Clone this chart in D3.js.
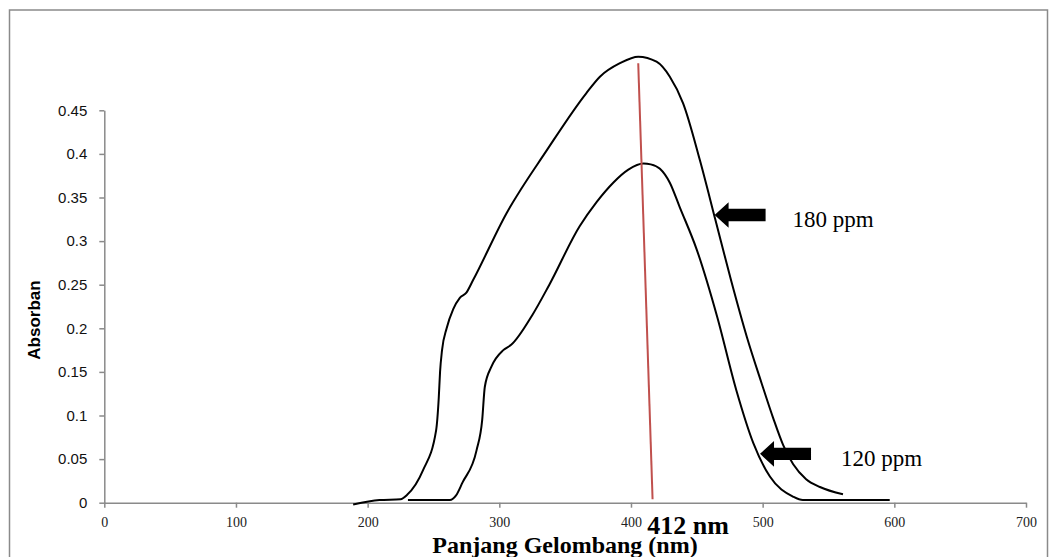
<!DOCTYPE html>
<html>
<head>
<meta charset="utf-8">
<script src="https://cdn.jsdelivr.net/npm/d3@7"></script>
<style>
body{margin:0;background:#fff;}
svg{display:block;}
</style>
</head>
<body>
<svg id="Viz"></svg>
<script>
// wavelength (nm) / absorbance
let wl180 = [189, 209, 225, 230, 242, 252, 254, 255, 256.5, 260, 265, 270, 275, 280, 305.5, 336, 366, 376.4, 391.6, 405.5, 419.4, 429.5, 439.6, 452.3, 464, 476, 488, 499.2, 508, 515.6, 523.2, 533, 543.5, 561];
let abs180 = [-0.002, 0.003, 0.004, 0.009, 0.037, 0.083, 0.12, 0.15, 0.175, 0.2, 0.222, 0.235, 0.241, 0.255, 0.332, 0.404, 0.4695, 0.4885, 0.504, 0.5115, 0.5057, 0.4885, 0.458, 0.393, 0.325, 0.255, 0.19, 0.137, 0.097, 0.066, 0.044, 0.027, 0.018, 0.0096];

let wl120 = [230.6, 262.5, 267, 272, 282.7, 287, 289, 294, 303, 309, 325, 338, 361, 374, 386.5, 398, 409.5, 415, 422, 429.5, 437, 450, 465.5, 480, 493, 505.5, 523, 530.5, 560, 596.5];
let abs120 = [0.003, 0.003, 0.008, 0.023, 0.06, 0.095, 0.133, 0.156, 0.175, 0.181, 0.215, 0.25, 0.317, 0.345, 0.367, 0.382, 0.389, 0.388, 0.383, 0.367, 0.339, 0.29, 0.213, 0.129, 0.068, 0.03, 0.007, 0.003, 0.003, 0.003];

let xTicks = [0, 100, 200, 300, 400, 500, 600, 700];
let yTicks = [0, 0.05, 0.1, 0.15, 0.2, 0.25, 0.3, 0.35, 0.4, 0.45];

// red lambda max marker
let peakLineX = [405.5, 416.4];
let peakLineY = [0.504, 0.004];

let arrowTipX = [463.5, 498];
let arrowTipY = [0.33, 0.056];
let arrowLabels = ["180 ppm", "120 ppm"];

let Width = 1060, Height = 557;

let vizArea = d3.select('#Viz')
  .attr("width", Width)
  .attr("height", Height);

// outer chart border
vizArea.append("rect")
  .attr("x", 9.5).attr("y", 10)
  .attr("width", 1038).attr("height", 600)
  .attr("fill", "none")
  .attr("stroke", "#8a8a8a")
  .attr("stroke-width", 1.5);

let xScale = d3.scaleLinear().domain([0, 700]).range([104.3, 1026]);
let yScale = d3.scaleLinear().domain([0, 0.45]).range([502.7, 110.3]);

let yAxis = vizArea.append('g')
  .attr("transform", "translate(" + xScale(0) + ",0)")
  .call(d3.axisLeft(yScale).tickValues(yTicks).tickSize(5).tickSizeOuter(0).tickPadding(12)
    .tickFormat(d => d === 0 ? "0" : String(+d.toFixed(2))));
yAxis.selectAll("path,line").attr("stroke", "#8a8a8a").attr("stroke-width", 1.5);
yAxis.selectAll("text")
  .attr("font-family", "'Liberation Sans', Arial, sans-serif")
  .attr("font-size", 15)
  .attr("fill", "#111");

let xAxis = vizArea.append('g')
  .attr("transform", "translate(0," + yScale(0) + ")")
  .call(d3.axisBottom(xScale).tickValues(xTicks).tickSize(5).tickSizeOuter(0).tickPadding(9));
xAxis.selectAll("path,line").attr("stroke", "#8a8a8a").attr("stroke-width", 1.5);
xAxis.selectAll("text")
  .attr("font-family", "'Liberation Serif', 'Times New Roman', serif")
  .attr("font-size", 14)
  .attr("fill", "#222");

let line = d3.line()
  .x(d => xScale(d[0]))
  .y(d => yScale(d[1]))
  .curve(d3.curveMonotoneX);

let series = [d3.zip(wl180, abs180), d3.zip(wl120, abs120)];

vizArea.selectAll(".spec")
  .data(series)
  .enter()
  .append("path")
  .attr("class", "spec")
  .attr("d", line)
  .attr("fill", "none")
  .attr("stroke", "#000")
  .attr("stroke-width", 2)
  .attr("stroke-linejoin", "round");

vizArea.append("path")
  .datum(d3.zip(peakLineX, peakLineY))
  .attr("d", d3.line().x(d => xScale(d[0])).y(d => yScale(d[1])))
  .attr("stroke", "#c0504d")
  .attr("stroke-width", 2)
  .attr("fill", "none");

// arrows pointing at the curves
let arrowShape = "M0,0 L14,-12.8 L14,-6.2 L51,-6.2 L51,6.2 L14,6.2 L14,12.8 Z";
let notes = vizArea.selectAll(".note")
  .data(d3.zip(arrowTipX, arrowTipY, arrowLabels))
  .enter()
  .append("g")
  .attr("class", "note")
  .attr("transform", d => "translate(" + xScale(d[0]) + "," + yScale(d[1]) + ")");
notes.append("path").attr("d", arrowShape).attr("fill", "#000");
notes.append("text")
  .attr("x", (d, i) => i === 0 ? 78 : 81)
  .attr("y", 12)
  .attr("font-family", "'Liberation Serif', 'Times New Roman', serif")
  .attr("font-size", 23)
  .attr("fill", "#000")
  .text(d => d[2]);

vizArea.append("text")
  .attr("x", xScale(412.3))
  .attr("y", 534)
  .attr("font-family", "'Liberation Serif', 'Times New Roman', serif")
  .attr("font-weight", "bold")
  .attr("font-size", 26)
  .attr("fill", "#000")
  .text("412 nm");

vizArea.append("text")
  .attr("x", 565)
  .attr("y", 553)
  .attr("text-anchor", "middle")
  .attr("font-family", "'Liberation Serif', 'Times New Roman', serif")
  .attr("font-weight", "bold")
  .attr("font-size", 24)
  .attr("fill", "#000")
  .text("Panjang Gelombang (nm)");

vizArea.append("text")
  .attr("transform", "translate(40,320) rotate(-90)")
  .attr("text-anchor", "middle")
  .attr("font-family", "'Liberation Sans', Arial, sans-serif")
  .attr("font-weight", "bold")
  .attr("font-size", 17)
  .attr("fill", "#000")
  .text("Absorban");
</script>
</body>
</html>
